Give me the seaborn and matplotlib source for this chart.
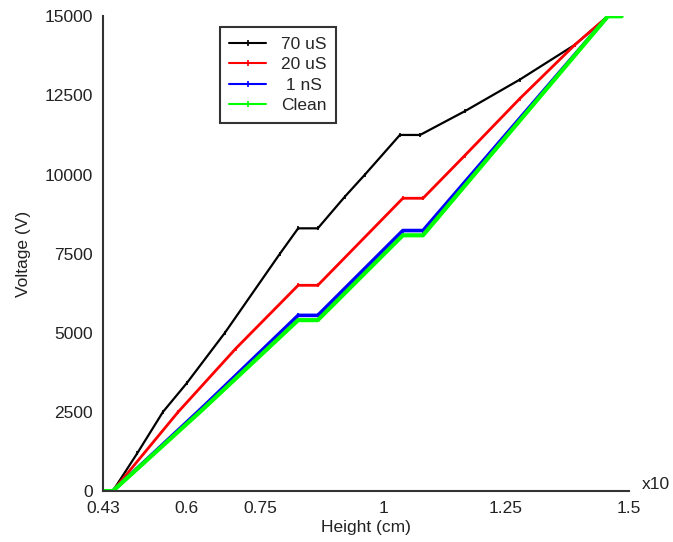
import pandas as pd
import seaborn as sns
import matplotlib.pyplot as plt

# values (height in units of 10 cm, voltage in V)
x_70us = [0.43, 0.45, 0.50, 0.552, 0.60, 0.678, 0.79, 0.827, 0.867, 0.922, 0.963, 1.034, 1.075, 1.166, 1.278, 1.39, 1.457]
y_70us = [0, 0, 1200, 2500, 3400, 5000, 7500, 8300, 8300, 9300, 10000, 11250, 11250, 12000, 13000, 14100, 15000]

x_20us = [0.43, 0.45, 0.583, 0.70, 0.827, 0.867, 1.04, 1.081, 1.166, 1.278, 1.39, 1.457]
y_20us = [0, 0, 2500, 4500, 6500, 6500, 9250, 9250, 10600, 12400, 14100, 15000]

x_1ns = [0.43, 0.45, 0.633, 0.827, 0.867, 1.04, 1.081, 1.457]
y_1ns = [0, 0, 2650, 5550, 5550, 8230, 8230, 15000]

x_clean = [0.43, 0.45, 0.633, 0.827, 0.867, 1.04, 1.081, 1.457, 1.485]
y_clean = [0, 0, 2580, 5400, 5400, 8080, 8080, 15000, 15000]

labels = ['70 uS', '20 uS', ' 1 nS', 'Clean']
colors = ['#000000', '#ff0000', '#0000ff', '#00ff00']
widths = [1.6, 2.0, 2.6, 3.0]

frames = []
for lab, xs, ys in zip(labels, [x_70us, x_20us, x_1ns, x_clean], [y_70us, y_20us, y_1ns, y_clean]):
    frames.append(pd.DataFrame({'Height': xs, 'Voltage': ys, 'Series': lab}))
df = pd.concat(frames, ignore_index=True)

sns.set_style('white')
plt.rcParams['font.family'] = ['Liberation Sans', 'DejaVu Sans']

fig = plt.figure(figsize=(6.73, 5.42), dpi=100)
ax = fig.add_axes([0.153, 0.094, 0.7816, 0.876])

for lab, col, lw in zip(labels, colors, widths):
    sns.lineplot(data=df[df['Series'] == lab], x='Height', y='Voltage', color=col,
                 linewidth=lw, marker='|', markersize=3, markeredgewidth=1.2,
                 markeredgecolor=col, label=lab, sort=False, estimator=None, ax=ax)

ax.set_xlim(0.43, 1.5)
ax.set_ylim(0, 15000)
ax.set_xticks([0.43, 0.6, 0.75, 1, 1.25, 1.5])
ax.set_xticklabels(['0.43', '0.6', '0.75', '1', '1.25', '1.5'])
ax.set_yticks(range(0, 15001, 2500))
ax.set_yticklabels([str(v) for v in range(0, 15001, 2500)])
ax.tick_params(direction='in', length=5, width=1.2, labelsize=12.5, colors='#222222', pad=7)

for side in ['top', 'right']:
    ax.spines[side].set_visible(False)
for side in ['left', 'bottom']:
    ax.spines[side].set_color('#333333')
    ax.spines[side].set_linewidth(1.5)

ax.set_xlabel('Height (cm)', fontsize=12.5, color='#222222', labelpad=3)
ax.set_ylabel('Voltage (V)', fontsize=12.5, color='#222222', labelpad=10)
ax.text(1.025, 0.004, 'x10', transform=ax.transAxes, fontsize=12.5, color='#222222',
        ha='left', va='baseline')

leg = ax.legend(loc='upper left', bbox_to_anchor=(0.222, 0.977), frameon=True, fancybox=False,
                fontsize=12.5, handlelength=2.1, handletextpad=0.9, borderpad=0.55,
                labelspacing=0.3, edgecolor='#333333', framealpha=1, numpoints=1,
                borderaxespad=0)
leg.get_frame().set_linewidth(1.5)
for h in leg.get_lines():
    h.set_linewidth(1.5)
    h.set_markersize(4)

fig.savefig('out.png', dpi=100)
